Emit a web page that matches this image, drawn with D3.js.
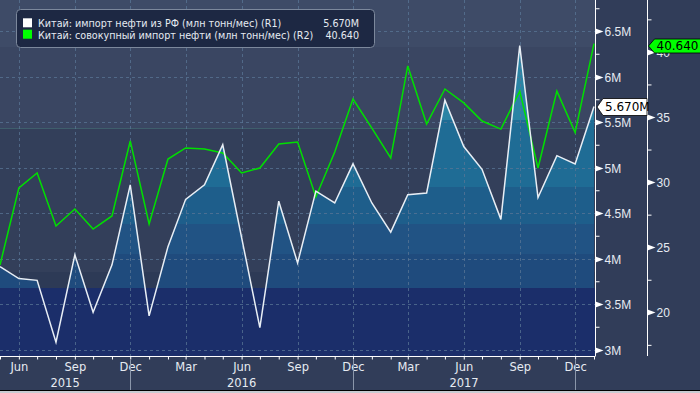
<!DOCTYPE html>
<html>
<head>
<meta charset="utf-8">
<script src="https://cdn.jsdelivr.net/npm/d3@7"></script>
<style>
  body { margin: 0; background: #313d59; }
  svg { display: block; font-family: "DejaVu Sans", sans-serif; }
</style>
</head>
<body>
<div id="chart"></div>
<script>
// monthly data, May 2015 - Jan 2018
const months = [
  "2015-05", "2015-06", "2015-07", "2015-08", "2015-09", "2015-10", "2015-11", "2015-12",
  "2016-01", "2016-02", "2016-03", "2016-04", "2016-05", "2016-06", "2016-07", "2016-08",
  "2016-09", "2016-10", "2016-11", "2016-12", "2017-01", "2017-02", "2017-03", "2017-04",
  "2017-05", "2017-06", "2017-07", "2017-08", "2017-09", "2017-10", "2017-11", "2017-12",
  "2018-01"
];
// импорт нефти из РФ, млн тонн (R1)
const russiaImports = [
  3.91, 3.78, 3.76, 3.08, 4.04, 3.41, 3.93, 4.81,
  3.37, 4.13, 4.65, 4.81, 5.25, 4.23, 3.24, 4.63,
  3.95, 4.74, 4.61, 5.04, 4.61, 4.29, 4.70, 4.72,
  5.74, 5.23, 4.98, 4.43, 6.34, 4.67, 5.13, 5.04,
  5.67
];
// совокупный импорт нефти, млн тонн (R2)
const totalImports = [
  23.63, 29.55, 30.70, 26.63, 27.93, 26.39, 27.40, 33.16,
  26.78, 31.77, 32.62, 32.54, 32.24, 30.70, 31.08, 32.93,
  33.08, 28.86, 32.31, 36.38, 34.15, 31.85, 38.92, 34.46,
  37.15, 36.08, 34.69, 34.07, 36.99, 31.08, 36.99, 33.80,
  40.64
];
const monthTicks = ["2015-06", "2015-09", "2015-12", "2016-03", "2016-06", "2016-09",
  "2016-12", "2017-03", "2017-06", "2017-09", "2017-12"];
const yearBreaks = ["2015-05", "2015-12", "2016-12", "2017-12"];
const yearLabels = ["2015", "2016", "2017"];
const r1Ticks = [3, 3.5, 4, 4.5, 5, 5.5, 6, 6.5];
const r1Minor = [3.25, 3.75, 4.25, 4.75, 5.25, 5.75, 6.25, 6.75];
const r2Ticks = [20, 25, 30, 35, 40];
const r2Minor = [17.5, 22.5, 27.5, 32.5, 37.5, 42.5];
const legendLabels = [
  "Китай: импорт нефти из РФ (млн тонн/мес) (R1)",
  "Китай: совокупный импорт нефти (млн тонн/мес) (R2)"
];
const lastLabels = ["5.670M", "40.640"];

const width = 700, height = 393;
const plotRight = 595.5, r2Axis = 647.5, plotBottom = 356;

const parse = d3.timeParse("%Y-%m");
const data = months.map((m, i) => ({ date: parse(m), r1: russiaImports[i], r2: totalImports[i] }));

const x = d3.scaleTime()
  .domain([parse(months[0]), parse(months[months.length - 1])])
  .range([0, 594]);
const yL = d3.scaleLinear().domain([2.9286, 6.8407]).range([plotBottom, 0]);
const yR = d3.scaleLinear().domain([16.644, 43.986]).range([plotBottom, 0]);

const svg = d3.select("#chart").append("svg")
  .attr("width", width)
  .attr("height", height);

// hard-edged bands for background and area fill
const bgBands = [[0, "#3e4b67"], [47, "#3a4662"], [128, "#333f5a"], [272, "#2d3a56"], [288, "#1b2e6a"]];
const areaBands = [[0, "#2a84a5"], [120, "#1f6c95"], [187, "#1e5e8b"], [224, "#215384"], [254, "#1f4b7d"], [288, "#1b2e6a"]];

const defs = svg.append("defs");
function bandGradient(id, bands) {
  const g = defs.append("linearGradient")
    .attr("id", id)
    .attr("gradientUnits", "userSpaceOnUse")
    .attr("x1", 0).attr("y1", 0).attr("x2", 0).attr("y2", plotBottom);
  bands.forEach((b, i) => {
    const end = i < bands.length - 1 ? bands[i + 1][0] : plotBottom;
    g.append("stop").attr("offset", b[0] / plotBottom).attr("stop-color", b[1]);
    g.append("stop").attr("offset", end / plotBottom).attr("stop-color", b[1]);
  });
}
bandGradient("bgFill", bgBands);
bandGradient("areaFill", areaBands);

svg.append("rect")
  .attr("width", plotRight).attr("height", plotBottom)
  .attr("fill", "url(#bgFill)");

svg.append("line")
  .attr("x1", 0).attr("x2", plotRight).attr("y1", 128.5).attr("y2", 128.5)
  .attr("stroke", "#3f5e6c").attr("stroke-width", 1);

// area under R1 line
svg.append("path")
  .datum(data)
  .attr("fill", "url(#areaFill)")
  .attr("d", d3.area().x(d => x(d.date)).y0(plotBottom).y1(d => yL(d.r1)));

// grid
const grid = svg.append("g")
  .attr("stroke", "#5a7596")
  .attr("stroke-opacity", 0.75)
  .attr("stroke-dasharray", "3,3");
grid.selectAll(".h").data(r1Ticks).join("line")
  .attr("x1", 0).attr("x2", plotRight)
  .attr("y1", d => Math.round(yL(d)) + 0.5).attr("y2", d => Math.round(yL(d)) + 0.5);
grid.selectAll(".v").data(monthTicks).join("line")
  .attr("x1", d => Math.round(x(parse(d))) + 0.5).attr("x2", d => Math.round(x(parse(d))) + 0.5)
  .attr("y1", 0).attr("y2", plotBottom);

// lines
svg.append("path")
  .datum(data)
  .attr("fill", "none")
  .attr("stroke", "#00e000")
  .attr("stroke-width", 1.5)
  .attr("d", d3.line().x(d => x(d.date)).y(d => yR(d.r2)));
svg.append("path")
  .datum(data)
  .attr("fill", "none")
  .attr("stroke", "#e8eef5")
  .attr("stroke-width", 1.5)
  .attr("d", d3.line().x(d => x(d.date)).y(d => yL(d.r1)));

// bottom axis
const xAxis = svg.append("g")
  .attr("transform", `translate(0,${plotBottom + 0.5})`)
  .call(d3.axisBottom(x).tickValues(data.map(d => d.date)).tickSize(3).tickSizeOuter(0).tickFormat(""));
xAxis.select(".domain").attr("d", `M0,0H${plotRight}`);
xAxis.selectAll("path, line").attr("stroke", "#ffffff");

const xLabels = svg.append("g")
  .attr("transform", `translate(0,${plotBottom})`)
  .call(d3.axisBottom(x).tickValues(monthTicks.map(parse)).tickSize(0).tickFormat(d3.timeFormat("%b")));
xLabels.select(".domain").remove();
xLabels.selectAll("text")
  .attr("y", 15).attr("dy", null)
  .attr("fill", "#e6ebf2")
  .attr("font-family", "DejaVu Sans, sans-serif")
  .attr("font-size", 11.5);

svg.selectAll(".yearBreak").data(yearBreaks.slice(1)).join("line")
  .attr("x1", d => Math.round(x(parse(d))) + 0.5).attr("x2", d => Math.round(x(parse(d))) + 0.5)
  .attr("y1", plotBottom + 4).attr("y2", height)
  .attr("stroke", "#8a96aa");
svg.selectAll(".year").data(yearLabels).join("text")
  .attr("x", (d, i) => (x(parse(yearBreaks[i])) + x(parse(yearBreaks[i + 1]))) / 2)
  .attr("y", 387)
  .attr("text-anchor", "middle")
  .attr("fill", "#e6ebf2")
  .attr("font-size", 11.5)
  .text(d => d);

// right axes
function rightAxis(scale, major, minor, left, fmt) {
  const g = svg.append("g").attr("transform", `translate(${left},0)`);
  g.call(d3.axisRight(scale).tickValues(minor).tickSize(4).tickSizeOuter(0).tickFormat(""));
  g.select(".domain").attr("d", `M0,0V${plotBottom}`);
  g.selectAll("path, line").attr("stroke", "#ffffff");
  const t = g.selectAll(".major").data(major).join("g")
    .attr("transform", d => `translate(0,${Math.round(scale(d)) + 0.5})`);
  t.append("path").attr("d", "M0,-3L8,0L0,3Z").attr("fill", "#ffffff");
  t.append("text")
    .attr("x", 9).attr("dy", "0.36em")
    .attr("fill", "#e6ebf2")
    .attr("font-size", 12)
    .text(fmt);
}
rightAxis(yL, r1Ticks, r1Minor, plotRight, d => d + "M");
rightAxis(yR, r2Ticks, r2Minor, r2Axis, d => d);

// last-value tags
function tag(xTip, yv, label, fill, w, h) {
  const g = svg.append("g").attr("transform", `translate(${xTip},${Math.round(yv)})`);
  g.append("path")
    .attr("d", `M0,0L6,${-h / 2}H${w}V${h / 2}H6Z`)
    .attr("fill", fill)
    .attr("stroke", "#000000")
    .attr("stroke-width", 0.8);
  g.append("text")
    .attr("x", 8).attr("dy", "0.36em")
    .attr("fill", "#000000")
    .attr("font-size", 12)
    .text(label);
}
const last = data[data.length - 1];
tag(plotRight + 1.5, yL(last.r1), lastLabels[0], "#ffffff", 50, 17);
tag(r2Axis + 1, yR(last.r2) + 2, lastLabels[1], "#00ff00", 60, 14);

// legend
const legend = svg.append("g");
legend.append("rect")
  .attr("x", 16.5).attr("y", 9.5).attr("width", 358).attr("height", 38).attr("rx", 4)
  .attr("fill", "#1d2843")
  .attr("stroke", "#7c889c");
const rows = legend.selectAll(".row").data(legendLabels).join("g")
  .attr("transform", (d, i) => `translate(0,${27.3 + i * 11.4})`);
rows.append("rect")
  .attr("x", 23).attr("y", -9).attr("width", 9).attr("height", 9)
  .attr("fill", (d, i) => i ? "#00ff00" : "#ffffff");
rows.append("text")
  .attr("x", 38)
  .attr("fill", "#e6ebf2")
  .attr("font-size", 9.6)
  .text(d => d);
rows.append("text")
  .attr("x", 359)
  .attr("text-anchor", "end")
  .attr("fill", "#e6ebf2")
  .attr("font-size", 9.6)
  .text((d, i) => lastLabels[i]);

// bottom frame
svg.append("rect").attr("y", 390).attr("width", width).attr("height", 1).attr("fill", "#000000");
svg.append("rect").attr("y", 391).attr("width", width).attr("height", 2).attr("fill", "#c8ccd2");
</script>
</body>
</html>
